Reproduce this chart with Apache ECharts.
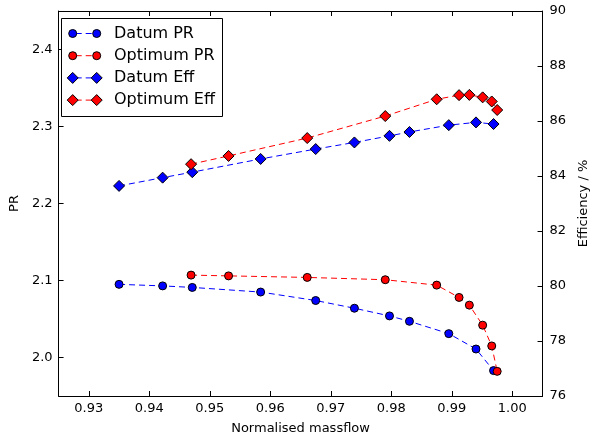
<!DOCTYPE html>
<html>
<head>
<meta charset="utf-8">
<script src="https://cdn.jsdelivr.net/npm/echarts@6/dist/echarts.min.js"></script>
<style>html,body{margin:0;padding:0;background:#fff;}#c{width:598px;height:440px;}</style>
</head>
<body>
<div id="c"></div>
<script>
// ---- data ----
var datumFlow = [0.9350, 0.9422, 0.9471, 0.9584, 0.9675, 0.9739, 0.9797, 0.9830, 0.9895, 0.9940, 0.9969];
var datumPR   = [2.095, 2.093, 2.091, 2.085, 2.074, 2.064, 2.054, 2.047, 2.031, 2.011, 1.983];
var datumEff  = [83.64, 83.94, 84.14, 84.62, 84.98, 85.22, 85.46, 85.60, 85.85, 85.95, 85.89];
var optFlow   = [0.9469, 0.9531, 0.9661, 0.9790, 0.9875, 0.9912, 0.9929, 0.9951, 0.9966, 0.9975];
var optPR     = [2.107, 2.106, 2.104, 2.101, 2.094, 2.078, 2.068, 2.042, 2.015, 1.982];
var optEff    = [84.43, 84.73, 85.38, 86.18, 86.79, 86.94, 86.95, 86.86, 86.71, 86.40];
var xTicks    = [0.93, 0.94, 0.95, 0.96, 0.97, 0.98, 0.99, 1.00];
var prTicks   = [2.0, 2.1, 2.2, 2.3, 2.4];
var seriesNames = ['Datum PR', 'Optimum PR', 'Datum Eff', 'Optimum Eff'];
var xName = 'Normalised massflow';
var yLeftName = 'PR';
var yRightName = 'Efficiency / %';

function pairs(xs, ys) { return xs.map(function (x, i) { return [x, ys[i]]; }); }

var FONT = 'DejaVu Sans';
var BLUE = '#0000ff', RED = '#ff0000';
var dash = [6, 4];

var chart = echarts.init(document.getElementById('c'), null, {renderer: 'canvas'});

function mkSeries(name, data, color, symbol, size, yIdx, z) {
  return {
    name: name, type: 'line', xAxisIndex: 0, yAxisIndex: yIdx, data: data,
    symbol: symbol, symbolSize: size, showAllSymbol: true, z: z,
    lineStyle: {color: color, width: 1, type: dash},
    itemStyle: {color: color, borderColor: '#000', borderWidth: 1},
    emphasis: {disabled: true}, animation: false
  };
}

var axisLineStyle = {show: true, lineStyle: {color: '#000', width: 1}};
var labelStyle = {color: '#000', fontSize: 13, fontFamily: FONT};

// legend built from graphic elements (matplotlib style: marker - line - marker)
var legendGraphics = [];
var lgX = 61.5, lgY = 18.5, lgW = 161, lgH = 98;
legendGraphics.push({type: 'rect', shape: {x: lgX, y: lgY, width: lgW, height: lgH},
  style: {fill: '#fff', stroke: '#000', lineWidth: 1}, z: 100});
var legendColors = [BLUE, RED, BLUE, RED];
var legendSymbols = ['circle', 'circle', 'diamond', 'diamond'];
for (var i = 0; i < 4; i++) {
  var cy = 33.5 + 22.2 * i;
  var x1 = 72.7, x2 = 96.7;
  legendGraphics.push({type: 'line', shape: {x1: x1, y1: cy, x2: x2, y2: cy},
    style: {stroke: legendColors[i], lineWidth: 1, lineDash: [6, 4], lineDashOffset: -3}, z: 101});
  [x1, x2].forEach(function (mx) {
    if (legendSymbols[i] === 'circle') {
      legendGraphics.push({type: 'circle', shape: {cx: mx, cy: cy, r: 4},
        style: {fill: legendColors[i], stroke: '#000', lineWidth: 1}, z: 102});
    } else {
      legendGraphics.push({type: 'polygon', shape: {points: [[mx, cy - 5.5], [mx + 5.5, cy], [mx, cy + 5.5], [mx - 5.5, cy]]},
        style: {fill: legendColors[i], stroke: '#000', lineWidth: 1}, z: 102});
    }
  });
  legendGraphics.push({type: 'text', x: 114, y: cy,
    style: {text: seriesNames[i], fill: '#000', font: '16px "DejaVu Sans"', verticalAlign: 'middle', align: 'left'}, z: 102});
}

var option = {
  backgroundColor: '#fff',
  animation: false,
  textStyle: {fontFamily: FONT},
  grid: {left: 53, right: 41, top: 11, bottom: 40, containLabel: false},
  xAxis: [{
    type: 'value', position: 'bottom', min: 0.925, max: 1.005,
    axisLine: axisLineStyle,
    axisTick: {show: true, inside: true, length: 5, customValues: xTicks, lineStyle: {color: '#000'}},
    axisLabel: Object.assign({customValues: xTicks, margin: 6, formatter: function (v) { return v.toFixed(2); }}, labelStyle),
    splitLine: {show: false},
    name: xName, nameLocation: 'middle', nameGap: 26,
    nameTextStyle: {color: '#000', fontSize: 13, fontFamily: FONT}
  }, {
    type: 'value', position: 'top', min: 0.925, max: 1.005,
    axisLine: axisLineStyle,
    axisTick: {show: true, inside: true, length: 5, customValues: xTicks, lineStyle: {color: '#000'}},
    axisLabel: {show: false},
    splitLine: {show: false}
  }],
  yAxis: [{
    type: 'value', position: 'left', min: 1.95, max: 2.45,
    axisLine: axisLineStyle,
    axisTick: {show: true, inside: true, length: 5, customValues: prTicks, lineStyle: {color: '#000'}},
    axisLabel: Object.assign({customValues: prTicks, margin: 6, formatter: function (v) { return v.toFixed(1); }}, labelStyle),
    splitLine: {show: false},
    name: yLeftName, nameLocation: 'middle', nameGap: 32, nameRotate: 90,
    nameTextStyle: {color: '#000', fontSize: 13, fontFamily: FONT}
  }, {
    type: 'value', position: 'right', min: 76, max: 90, interval: 2,
    axisLine: axisLineStyle,
    axisTick: {show: true, inside: true, length: 5, lineStyle: {color: '#000'}},
    axisLabel: Object.assign({margin: 7}, labelStyle),
    splitLine: {show: false},
    name: yRightName, nameLocation: 'middle', nameGap: 28, nameRotate: 90,
    nameTextStyle: {color: '#000', fontSize: 13, fontFamily: FONT}
  }],
  series: [
    mkSeries(seriesNames[0], pairs(datumFlow, datumPR), BLUE, 'circle', 8, 0, 2),
    mkSeries(seriesNames[1], pairs(optFlow, optPR), RED, 'circle', 8, 0, 3),
    mkSeries(seriesNames[2], pairs(datumFlow, datumEff), BLUE, 'diamond', [11, 11], 1, 4),
    mkSeries(seriesNames[3], pairs(optFlow, optEff), RED, 'diamond', [11, 11], 1, 5)
  ],
  graphic: legendGraphics
};
chart.setOption(option);
</script>
</body>
</html>
